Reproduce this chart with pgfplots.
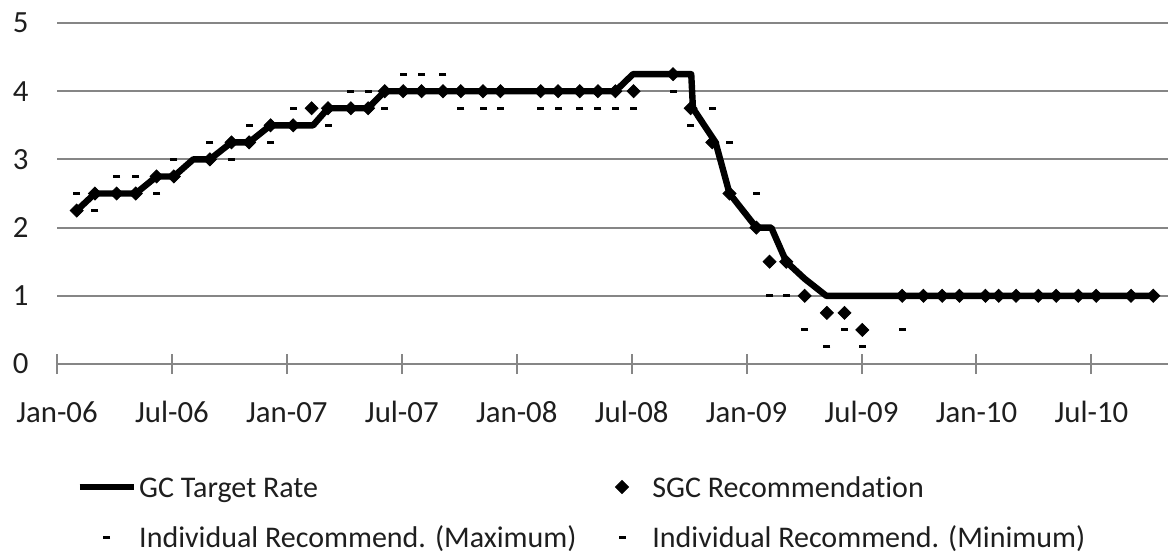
\documentclass[border=0pt]{standalone}
\usepackage{fontspec}
\setmainfont{Carlito}[Ligatures=NoCommon]
\usepackage{pgfplots}
\usepackage{pgfplotstable}
\pgfplotsset{compat=1.18}
\definecolor{gridgray}{RGB}{134,134,134}
\definecolor{txt}{RGB}{30,30,30}

\pgfplotstableread{
m r
1.03 2.25
1.98 2.5
4.11 2.5
5.20 2.75
6.10 2.75
7.11 3.0
7.98 3.0
9.11 3.25
10.03 3.25
11.15 3.5
13.37 3.5
14.15 3.75
16.24 3.75
17.11 4.0
29.15 4.0
30.07 4.25
33.11 4.25
33.20 3.75
34.38 3.25
35.11 2.5
36.51 2.0
37.29 2.0
38.07 1.5
39.03 1.25
40.16 1.0
57.23 1.0
}\gcrate

\pgfplotstableread{
m r
1.03 2.25
1.98 2.5
3.11 2.5
4.11 2.5
5.20 2.75
6.10 2.75
7.98 3.0
9.11 3.25
10.03 3.25
11.15 3.5
12.33 3.5
13.29 3.75
14.15 3.75
15.34 3.75
16.24 3.75
17.11 4.0
18.07 4.0
19.03 4.0
20.15 4.0
21.08 4.0
22.24 4.0
23.15 4.0
25.25 4.0
26.16 4.0
27.29 4.0
28.24 4.0
29.15 4.0
30.10 4.0
32.16 4.25
33.08 3.75
34.21 3.25
35.11 2.5
36.51 2.0
37.20 1.5
38.07 1.5
39.03 1.0
40.19 0.75
41.11 0.75
42.04 0.5
44.12 1.0
45.23 1.0
46.21 1.0
47.11 1.0
48.47 1.0
49.16 1.0
50.07 1.0
51.23 1.0
52.16 1.0
53.32 1.0
54.25 1.0
56.07 1.0
57.23 1.0
}\sgc

\pgfplotstableread{
m r
1.03 2.5
3.11 2.75
4.11 2.75
6.10 3.0
7.98 3.25
10.03 3.5
12.33 3.75
15.34 4.0
16.24 4.0
18.07 4.25
19.03 4.25
20.15 4.25
34.21 3.75
35.11 3.25
36.51 2.5
}\indmax

\pgfplotstableread{
m r
1.98 2.25
5.20 2.5
9.11 3.0
11.15 3.25
14.15 3.5
17.11 3.75
21.08 3.75
22.24 3.75
23.15 3.75
25.25 3.75
26.16 3.75
27.29 3.75
28.24 3.75
29.15 3.75
30.10 3.75
32.16 4.0
33.08 3.5
37.20 1.0
38.07 1.0
39.03 0.5
40.19 0.25
41.11 0.5
42.04 0.25
44.12 0.5
}\indmin

\begin{document}
\begin{tikzpicture}
\useasboundingbox (0,0) rectangle (585pt,278pt);
\begin{axis}[
  at={(28.5pt,96pt)}, anchor=south west,
  width=555.5pt, height=170.5pt, scale only axis,
  xmin=0, xmax=58, ymin=0, ymax=5,
  axis lines*=left,
  y axis line style={draw=none},
  x axis line style={draw=gridgray, line width=1pt},
  xtick={0,6,...,54},
  xticklabels={Jan-06,Jul-06,Jan-07,Jul-07,Jan-08,Jul-08,Jan-09,Jul-09,Jan-10,Jul-10},
  ytick={0,1,2,3,4,5},
  ymajorgrids, grid style={draw=gridgray, line width=1pt},
  xtick align=center, major tick length=10pt,
  xtick style={draw=gridgray, line width=1pt},
  ytick style={draw=none},
  /pgf/number format/assume math mode=true,
  tick label style={font=\fontsize{15.4}{18}\selectfont, text=txt},
  xticklabel style={inner sep=0pt, anchor=north, text height=10pt, text depth=0pt},
  xticklabel shift=14pt,
  yticklabel style={inner sep=0pt, anchor=east},
  yticklabel shift=14pt,
  clip=false,
  legend columns=2,
  legend cell align=left,
  legend style={at={(0.018,-0.3109)}, anchor=north west, draw=none, fill=none,
    inner sep=0pt, outer sep=0pt, font=\fontsize{15}{18}\selectfont, text=txt,
    column sep=1.5pt, /tikz/every even column/.append style={column sep=9pt},
    row sep=8pt, nodes={inner sep=0pt, text height=13.5pt, text depth=3.5pt}},
]
\addplot[black, line width=3.2pt, line join=round, mark=none,
  legend image code/.code={\draw[line width=2.6pt] (0pt,0pt) -- (27pt,0pt);}]
  table[x=m, y=r] {\gcrate};
\addlegendentry{GC Target Rate}
\addplot[only marks, mark=square*, mark size=2.3pt, mark options={rotate=45, black, fill=black},
  legend image code/.code={\path (0pt,0pt) (27pt,0pt); \draw plot coordinates {(13.5pt,0pt)};}]
  table[x=m, y=r] {\sgc};
\addlegendentry{SGC Recommendation}
\addplot[only marks, mark=-, mark size=1.75pt, mark options={black, line width=1.5pt},
  legend image code/.code={\path (0pt,0pt) (27pt,0pt); \draw plot coordinates {(13.5pt,0pt)};}]
  table[x=m, y=r] {\indmax};
\addlegendentry{Individual Recommend. (Maximum)}
\addplot[only marks, mark=-, mark size=1.75pt, mark options={black, line width=1.5pt},
  legend image code/.code={\path (0pt,0pt) (27pt,0pt); \draw plot coordinates {(13.5pt,0pt)};}]
  table[x=m, y=r] {\indmin};
\addlegendentry{Individual Recommend. (Minimum)}
\end{axis}
\end{tikzpicture}
\end{document}
